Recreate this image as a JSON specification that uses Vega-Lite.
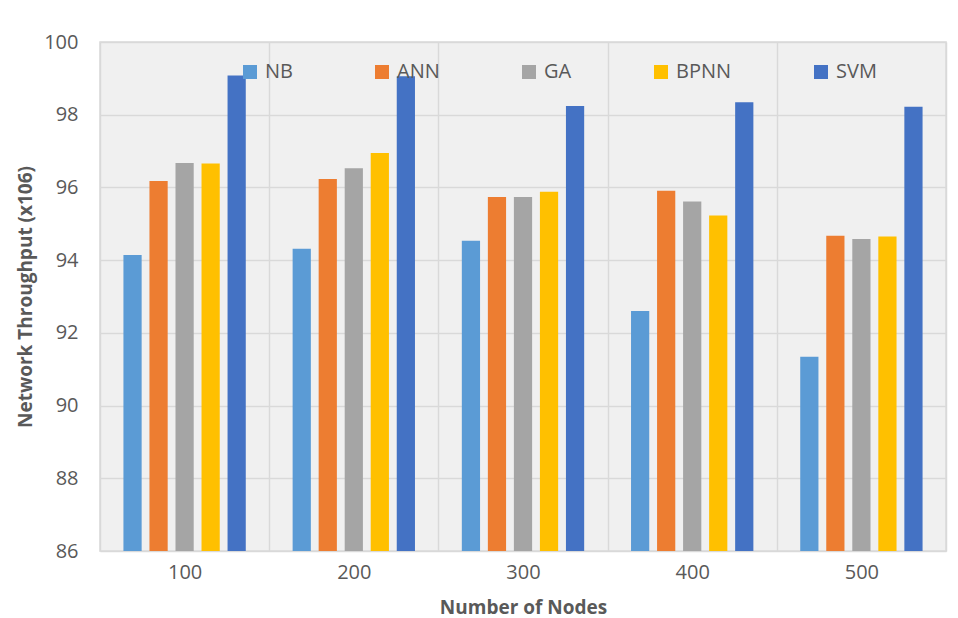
{
  "$schema": "https://vega.github.io/schema/vega-lite/v6.json",
  "width": 846,
  "height": 509,
  "autosize": {"type": "none"},
  "padding": {"left": 100, "top": 42, "right": 12, "bottom": 67},
  "background": "white",
  "config": {
    "font": "Open Sans",
    "view": {"stroke": "#d9d9d9", "strokeWidth": 1.5, "fill": "#f0f0f0"},
    "axis": {"labelColor": "#595959", "titleColor": "#595959", "labelFontSize": 20, "titleFontSize": 19, "titleFontWeight": "bold", "gridColor": "#d9d9d9", "gridWidth": 1.5, "ticks": false, "domain": false}
  },
  "data": {
    "values": [
      {"nodes": "100", "method": "NB", "value": 94.14},
      {"nodes": "100", "method": "ANN", "value": 96.18},
      {"nodes": "100", "method": "GA", "value": 96.67},
      {"nodes": "100", "method": "BPNN", "value": 96.66},
      {"nodes": "100", "method": "SVM", "value": 99.08},
      {"nodes": "200", "method": "NB", "value": 94.31},
      {"nodes": "200", "method": "ANN", "value": 96.23},
      {"nodes": "200", "method": "GA", "value": 96.53},
      {"nodes": "200", "method": "BPNN", "value": 96.95},
      {"nodes": "200", "method": "SVM", "value": 99.06},
      {"nodes": "300", "method": "NB", "value": 94.53},
      {"nodes": "300", "method": "ANN", "value": 95.74},
      {"nodes": "300", "method": "GA", "value": 95.74},
      {"nodes": "300", "method": "BPNN", "value": 95.88},
      {"nodes": "300", "method": "SVM", "value": 98.24},
      {"nodes": "400", "method": "NB", "value": 92.6},
      {"nodes": "400", "method": "ANN", "value": 95.91},
      {"nodes": "400", "method": "GA", "value": 95.61},
      {"nodes": "400", "method": "BPNN", "value": 95.23},
      {"nodes": "400", "method": "SVM", "value": 98.34},
      {"nodes": "500", "method": "NB", "value": 91.34},
      {"nodes": "500", "method": "ANN", "value": 94.67},
      {"nodes": "500", "method": "GA", "value": 94.58},
      {"nodes": "500", "method": "BPNN", "value": 94.65},
      {"nodes": "500", "method": "SVM", "value": 98.22}
    ]
  },
  "mark": {"type": "bar", "clip": true},
  "encoding": {
    "x": {
      "field": "nodes", "type": "nominal", "title": "Number of Nodes",
      "scale": {"paddingInner": 0, "paddingOuter": 0},
      "axis": {"labelAngle": 0, "labelPadding": 11, "titlePadding": 16, "grid": true, "tickBand": "extent"}
    },
    "xOffset": {
      "field": "method", "type": "nominal",
      "sort": ["NB", "ANN", "GA", "BPNN", "SVM"],
      "scale": {"paddingInner": 0.3, "paddingOuter": 0.9}
    },
    "y": {
      "field": "value", "type": "quantitative", "title": "Network Throughput (x106)",
      "scale": {"domain": [86, 100], "zero": false, "nice": false},
      "axis": {"values": [86, 88, 90, 92, 94, 96, 98, 100], "labelPadding": 22, "titlePadding": 8, "grid": true}
    },
    "color": {
      "field": "method", "type": "nominal",
      "sort": ["NB", "ANN", "GA", "BPNN", "SVM"],
      "scale": {"domain": ["NB", "ANN", "GA", "BPNN", "SVM"], "range": ["#5b9bd5", "#ed7d31", "#a5a5a5", "#ffc000", "#4472c4"]},
      "legend": {
        "title": null, "orient": "none", "legendX": 140, "legendY": 20,
        "direction": "horizontal", "columns": 5, "columnPadding": 79,
        "symbolType": "square", "symbolSize": 196, "symbolStrokeWidth": 0,
        "labelFontSize": 20, "labelColor": "#595959", "labelOffset": 5
      }
    }
  }
}
